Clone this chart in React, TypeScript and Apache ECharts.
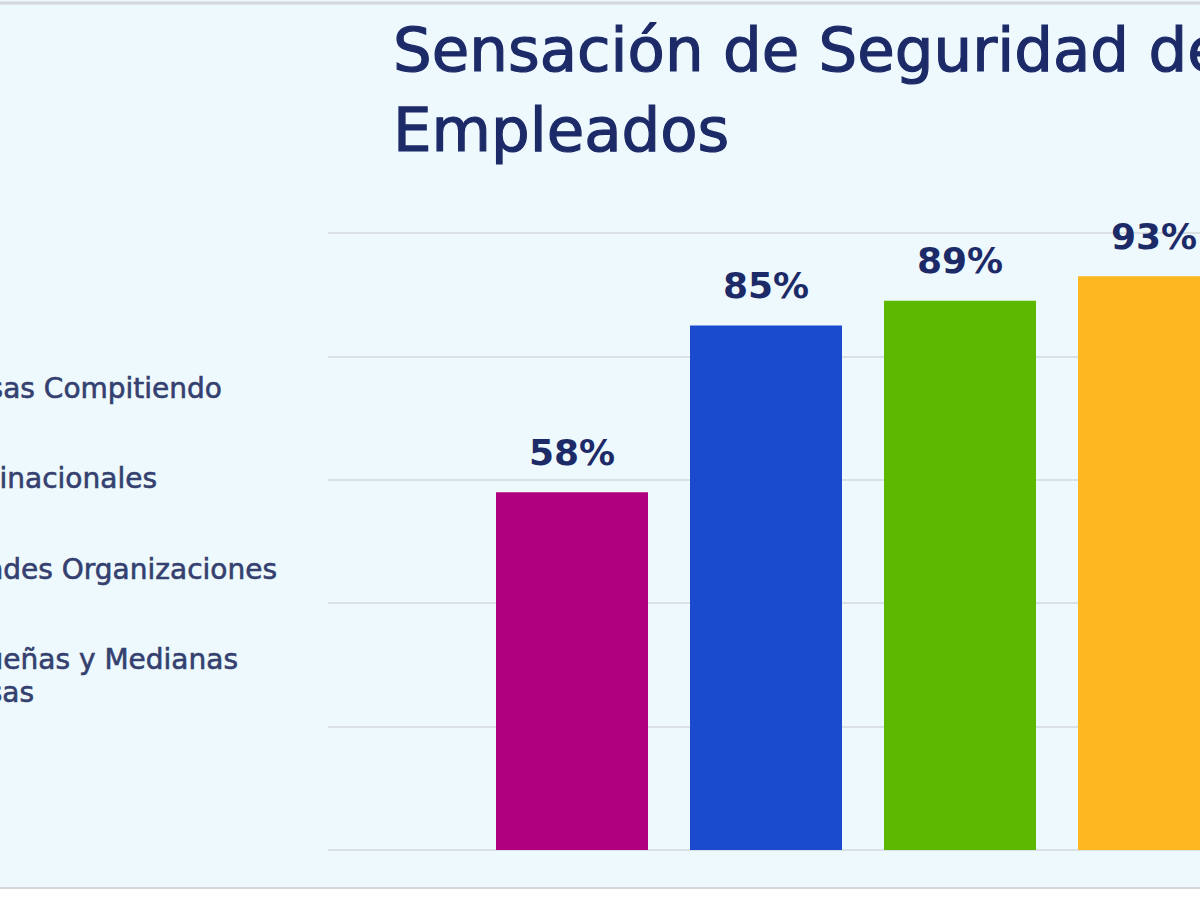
import React, { useEffect, useRef } from "react";
import * as echarts from "echarts";

const titleLines = ["Sensación de Seguridad de los", "Empleados"];
const categories = [
  "Empresas Compitiendo",
  "Multinacionales",
  "Grandes Organizaciones",
  "Pequeñas y Medianas Empresas",
];
const legendLines = [
  ["Empresas Compitiendo"],
  ["Multinacionales"],
  ["Grandes Organizaciones"],
  ["Pequeñas y Medianas", "Empresas"],
];
const values = [58, 85, 89, 93];
const colors = ["#b0007f", "#1a4bcf", "#5cb800", "#fdb71f"];
const yTicks = [0, 20, 40, 60, 80, 100];

// layout of the (cropped) legend text: right edge and vertical centre of each line
const legendRight = [[222], [157], [277], [238, 34]];
const legendY = [[388], [478], [569], [659, 692]];

export default function App() {
  const ref = useRef<HTMLDivElement>(null);
  useEffect(() => {
    if (!ref.current) return;
    const chart = echarts.init(ref.current, null, { renderer: "svg" });
    const font = "'DejaVu Sans', sans-serif";
    const legendGraphics: any[] = [];
    legendLines.forEach((lines, i) => {
      lines.forEach((line, j) => {
        legendGraphics.push({
          type: "text",
          x: legendRight[i][j],
          y: legendY[i][j],
          style: {
            text: line,
            textAlign: "right",
            textVerticalAlign: "middle",
            fontSize: 28,
            fontFamily: font,
            fill: "#34406f",
            stroke: "#34406f",
            lineWidth: 0.6,
          },
        });
      });
    });
    chart.setOption({
      animation: false,
      backgroundColor: "#eef9fd",
      title: {
        text: titleLines.join("\n"),
        left: 388,
        top: 4,
        textStyle: {
          fontSize: 61,
          lineHeight: 80,
          fontWeight: "normal",
          fontFamily: font,
          color: "#1c2a68",
          textBorderColor: "#1c2a68",
          textBorderWidth: 1.2,
        },
      },
      grid: [
        { left: 475, width: 776, top: 233, bottom: 50, outerBoundsMode: "none", containLabel: false },
        { left: 328, width: 1000, top: 233, bottom: 50, outerBoundsMode: "none", containLabel: false },
      ],
      xAxis: [
        {
          type: "category",
          gridIndex: 0,
          data: categories,
          axisLine: { show: false },
          axisTick: { show: false },
          axisLabel: { show: false },
        },
        {
          type: "category",
          gridIndex: 1,
          data: [""],
          show: false,
        },
      ],
      yAxis: [
        {
          type: "value",
          gridIndex: 0,
          min: yTicks[0],
          max: yTicks[yTicks.length - 1],
          interval: 20,
          show: false,
          splitLine: { show: false },
        },
        {
          type: "value",
          gridIndex: 1,
          min: yTicks[0],
          max: yTicks[yTicks.length - 1],
          interval: 20,
          axisLabel: { show: false },
          axisLine: { show: false },
          axisTick: { show: false },
          splitLine: { show: true, lineStyle: { color: "#dae1e5", width: 2 } },
        },
      ],
      series: [
        {
          type: "bar",
          xAxisIndex: 0,
          yAxisIndex: 0,
          barWidth: 152,
          z: 3,
          data: values.map((v, i) => ({ value: v, itemStyle: { color: colors[i] } })),
          label: {
            show: true,
            position: "top",
            distance: 22,
            formatter: "{c}%",
            fontSize: 36,
            fontWeight: "bold",
            fontFamily: font,
            color: "#1c2a68",
          },
        },
      ],
      graphic: [
        ...legendGraphics,
        {
          type: "line",
          shape: { x1: 0, y1: 3, x2: 1200, y2: 3 },
          style: { stroke: "#d4d8da", lineWidth: 3 },
        },
        {
          type: "line",
          shape: { x1: 0, y1: 888, x2: 1200, y2: 888 },
          style: { stroke: "#d4d8da", lineWidth: 2 },
        },
        {
          type: "rect",
          shape: { x: 0, y: 889, width: 1200, height: 11 },
          style: { fill: "#ffffff" },
        },
      ],
    });
    return () => chart.dispose();
  }, []);
  return (
    <div
      ref={ref}
      style={{ position: "fixed", left: 0, top: 0, width: 1200, height: 900 }}
    />
  );
}
